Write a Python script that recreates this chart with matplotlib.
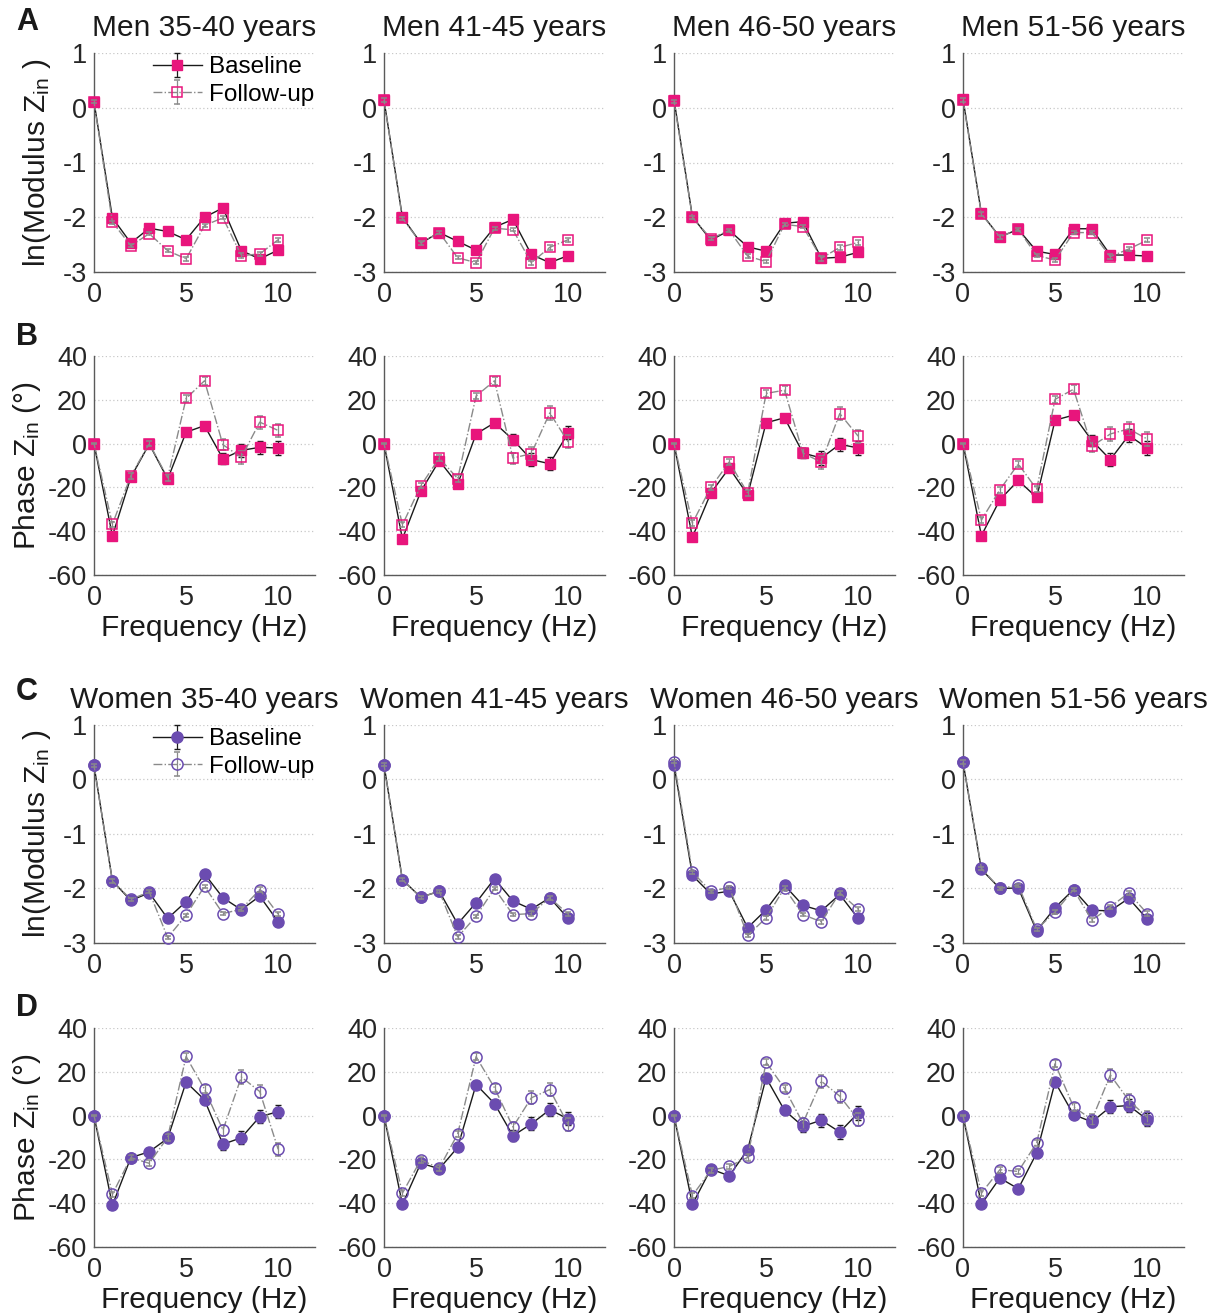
import matplotlib
matplotlib.use("Agg")
import matplotlib.pyplot as plt
import numpy as np

plt.rcParams['font.family'] = ['Liberation Sans', 'DejaVu Sans']
plt.rcParams['mathtext.fontset'] = 'custom'
plt.rcParams['mathtext.rm'] = 'Liberation Sans'
plt.rcParams['mathtext.it'] = 'Liberation Sans'
plt.rcParams['axes.unicode_minus'] = False

freq = [0, 1, 2, 3, 4, 5, 6, 7, 8, 9, 10]
age_groups = ["35-40", "41-45", "46-50", "51-56"]

# ---- Men: ln(Modulus Zin) ----
men_mod_base = [
    [0.11, -2.01, -2.47, -2.20, -2.26, -2.41, -2.00, -1.83, -2.61, -2.76, -2.60],
    [0.14, -2.00, -2.47, -2.28, -2.44, -2.60, -2.18, -2.04, -2.68, -2.83, -2.70],
    [0.15, -1.99, -2.42, -2.24, -2.54, -2.62, -2.11, -2.08, -2.75, -2.73, -2.64],
    [0.16, -1.93, -2.36, -2.22, -2.62, -2.68, -2.21, -2.21, -2.69, -2.69, -2.71],
]
men_mod_follow = [
    [0.11, -2.09, -2.52, -2.30, -2.61, -2.76, -2.15, -2.01, -2.70, -2.67, -2.41],
    [0.14, -2.02, -2.47, -2.28, -2.74, -2.83, -2.20, -2.23, -2.83, -2.55, -2.41],
    [0.12, -2.00, -2.39, -2.24, -2.71, -2.81, -2.13, -2.17, -2.75, -2.55, -2.46],
    [0.14, -1.94, -2.36, -2.22, -2.70, -2.78, -2.28, -2.28, -2.72, -2.58, -2.42],
]
# ---- Men: Phase Zin ----
men_ph_base = [
    [0, -42.1, -15.4, -0.2, -16.2, 5.2, 8.2, -6.9, -3.1, -1.7, -2.0],
    [0, -43.5, -21.8, -7.8, -18.5, 4.4, 9.5, 1.8, -7.3, -9.2, 4.9],
    [0, -42.7, -22.6, -11.1, -23.4, 9.5, 11.8, -4.3, -6.6, -0.3, -2.0],
    [0, -42.0, -25.7, -16.8, -24.6, 10.7, 13.0, 1.4, -7.3, 3.8, -2.0],
]
men_ph_follow = [
    [0, -36.8, -14.7, 0.0, -15.6, 20.6, 28.7, -0.5, -6.3, 9.8, 6.0],
    [0, -37.1, -19.2, -6.6, -16.0, 21.7, 28.7, -6.6, -4.6, 14.0, 0.8],
    [0, -36.3, -20.0, -8.4, -22.6, 22.9, 24.4, -4.3, -8.5, 13.7, 3.4],
    [0, -34.9, -21.1, -9.3, -20.8, 20.2, 24.8, -1.2, 4.4, 6.7, 2.1],
]
# ---- Women: ln(Modulus Zin) ----
women_mod_base = [
    [0.26, -1.86, -2.22, -2.08, -2.55, -2.24, -1.73, -2.17, -2.39, -2.14, -2.61],
    [0.27, -1.84, -2.16, -2.05, -2.65, -2.26, -1.82, -2.23, -2.38, -2.17, -2.55],
    [0.27, -1.76, -2.10, -2.05, -2.72, -2.39, -1.94, -2.31, -2.41, -2.11, -2.55],
    [0.32, -1.65, -2.00, -1.99, -2.78, -2.35, -2.02, -2.40, -2.41, -2.18, -2.56],
]
women_mod_follow = [
    [0.26, -1.86, -2.20, -2.06, -2.90, -2.49, -1.96, -2.46, -2.38, -2.02, -2.47],
    [0.27, -1.84, -2.16, -2.05, -2.89, -2.51, -2.00, -2.48, -2.46, -2.17, -2.47],
    [0.33, -1.70, -2.05, -1.98, -2.86, -2.54, -1.99, -2.48, -2.61, -2.08, -2.38],
    [0.32, -1.63, -2.00, -1.94, -2.75, -2.43, -2.02, -2.58, -2.34, -2.08, -2.46],
]
# ---- Women: Phase Zin ----
women_ph_base = [
    [0, -40.9, -19.2, -16.5, -10.4, 15.3, 7.2, -13.1, -10.1, -0.5, 1.8],
    [0, -40.5, -21.7, -24.3, -14.5, 14.2, 5.5, -9.2, -3.8, 2.7, -1.5],
    [0, -40.5, -24.4, -27.5, -15.6, 17.3, 2.4, -4.9, -2.1, -7.5, 1.2],
    [0, -40.5, -28.5, -33.4, -17.1, 15.3, 0.5, -2.9, 4.0, 4.6, -1.8],
]
women_ph_follow = [
    [0, -35.9, -19.2, -21.8, -9.9, 27.0, 12.1, -6.6, 17.6, 11.0, -15.4],
    [0, -35.4, -20.2, -24.0, -8.4, 26.9, 12.7, -5.2, 8.1, 11.9, -4.1],
    [0, -36.5, -25.0, -23.2, -19.1, 24.4, 12.4, -3.4, 15.7, 8.9, -1.8],
    [0, -35.4, -24.7, -25.5, -12.5, 23.7, 4.0, -1.8, 18.5, 7.0, -0.8],
]
# standard errors (approximate)
mod_err = [0.03, 0.03, 0.03, 0.03, 0.03, 0.03, 0.03, 0.03, 0.04, 0.04, 0.04]
ph_err = [0.3, 1.2, 1.3, 1.3, 1.5, 1.5, 1.8, 2.5, 3.0, 3.0, 3.0]

pink = '#E8157C'
purple = '#6B4CB0'
base_line = '#1a1a1a'
follow_line = '#8a8a8a'

fig = plt.figure(figsize=(12.23, 13.13), dpi=100)

W, H = 1223.0, 1313.0
col_left = [94, 384, 674, 963]
ax_w = 221
rows = [(53, 272), (356, 575), (725, 943), (1028, 1247)]

def make_ax(ci, ri):
    l = col_left[ci] / W
    top, bot = rows[ri]
    b = 1 - bot / H
    h = (bot - top) / H
    return fig.add_axes([l, b, ax_w / W, h])

def style(ax, ylim, yticks):
    ax.set_xlim(0, 12)
    ax.set_ylim(*ylim)
    ax.set_xticks([0, 5, 10])
    ax.set_yticks(yticks)
    for s in ['top', 'right']:
        ax.spines[s].set_visible(False)
    for s in ['left', 'bottom']:
        ax.spines[s].set_color('#5a5a5a')
        ax.spines[s].set_linewidth(1.0)
    ax.tick_params(axis='both', length=0, labelsize=19.5, colors='#262626')
    ax.tick_params(axis='x', pad=7)
    ax.tick_params(axis='y', pad=5)
    for yv in yticks:
        ax.axhline(yv, color='#c8c8c8', linestyle=(0, (1, 2)), linewidth=0.9, zorder=0)

def draw(ax, yb, yf, err, color, marker, ms):
    hb = ax.errorbar(freq, yb, yerr=err, color=base_line, linestyle='-', linewidth=1.0,
                     marker=marker, markersize=ms, markerfacecolor=color, markeredgecolor=color,
                     ecolor=base_line, elinewidth=0.9, capsize=2.5, clip_on=False, zorder=3)
    hf = ax.errorbar(freq, yf, yerr=err, color=follow_line, linestyle='-.', linewidth=1.0,
                     marker=marker, markersize=ms, markerfacecolor='none', markeredgecolor=color,
                     markeredgewidth=1.1, ecolor=follow_line, elinewidth=0.9, capsize=2.5,
                     clip_on=False, zorder=4)
    return hb, hf

groups = [
    ("Men", men_mod_base, men_mod_follow, men_ph_base, men_ph_follow, pink, 's', 6.5, 0, 1),
    ("Women", women_mod_base, women_mod_follow, women_ph_base, women_ph_follow, purple, 'o', 8.0, 2, 3),
]

for name, mb, mf, pb, pf, color, marker, ms, r_mod, r_ph in groups:
    for ci in range(4):
        ax = make_ax(ci, r_mod)
        style(ax, (-3, 1), [-3, -2, -1, 0, 1])
        hb, hf = draw(ax, mb[ci], mf[ci], mod_err, color, marker, ms)
        ax.set_title(f"{name} {age_groups[ci]} years", fontsize=21.5, pad=12, color='#1a1a1a')
        if ci == 0:
            ax.set_ylabel(r'ln(Modulus Z$_\mathregular{in}$ )', fontsize=21.5, labelpad=7, color='#1a1a1a')
            ax.legend([hb, hf], ['Baseline', 'Follow-up'], loc='upper right',
                      bbox_to_anchor=(1.04, 1.03), frameon=False, fontsize=17.5,
                      handlelength=2.0, handletextpad=0.3, labelspacing=0.22, borderaxespad=0)
        ax2 = make_ax(ci, r_ph)
        style(ax2, (-60, 40), [-60, -40, -20, 0, 20, 40])
        draw(ax2, pb[ci], pf[ci], ph_err, color, marker, ms)
        ax2.set_xlabel('Frequency (Hz)', fontsize=21.5, labelpad=2, color='#1a1a1a')
        if ci == 0:
            ax2.set_ylabel(r'Phase Z$_\mathregular{in}$ (°)', fontsize=21.5, labelpad=3.5, color='#1a1a1a')

for letter, ypix in [('A', 22), ('B', 337), ('C', 692), ('D', 1008)]:
    fig.text(27 / W, 1 - ypix / H, letter, fontsize=22, fontweight='bold',
             ha='center', va='center', color='#1a1a1a')

fig.savefig('out.png', dpi=100)
